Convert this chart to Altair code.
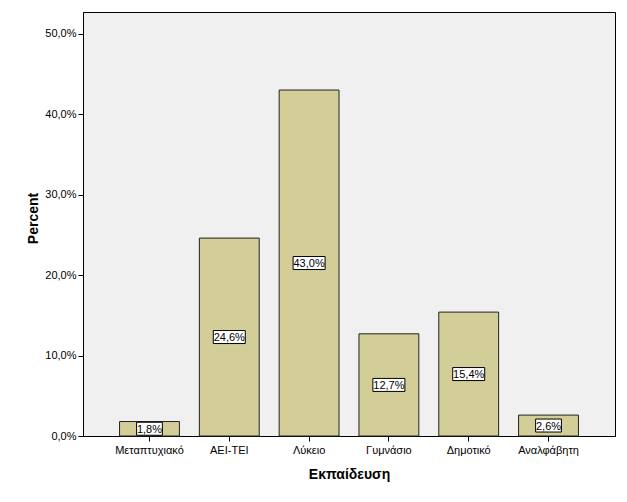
import altair as alt
import pandas as pd

categories = ["Μεταπτυχιακό", "ΑΕΙ-ΤΕΙ", "Λύκειο", "Γυμνάσιο", "Δημοτικό", "Αναλφάβητη"]
percents = [1.8, 24.6, 43.0, 12.7, 15.4, 2.6]

df = pd.DataFrame({"cat": categories, "pct": percents})

FONT = "Liberation Sans"

x = alt.X("cat:N", sort=categories, title="Εκπαίδευση",
          scale=alt.Scale(paddingInner=0.25, paddingOuter=0.458),
          axis=alt.Axis(labelAngle=0, labelFont=FONT, labelFontSize=11, labelColor="black",
                        titleFont=FONT, titleFontSize=14, titleFontWeight="bold", titleColor="black",
                        domainColor="black", tickColor="black", tickSize=5, labelPadding=3,
                        titlePadding=12))
y = alt.Y("pct:Q", title="Percent",
          scale=alt.Scale(domain=[0, 52.7], nice=False),
          axis=alt.Axis(values=[0, 10, 20, 30, 40, 50], grid=False,
                        labelExpr="replace(format(datum.value, '.1f'), '.', ',') + '%'",
                        labelFont=FONT, labelFontSize=11, labelColor="black",
                        titleFont=FONT, titleFontSize=14, titleFontWeight="bold", titleColor="black",
                        domainColor="black", tickColor="black", tickSize=5, labelPadding=2,
                        titlePadding=4, titleY=206, titleAlign="center"))

bars = alt.Chart(df).mark_bar(color="#D3CE97", stroke="#222222", strokeWidth=1).encode(x=x, y=y)

base = alt.Chart(df).transform_calculate(
    mid="datum.pct / 2",
    label="replace(format(datum.pct, '.1f'), '.', ',') + '%'",
).transform_calculate(
    w="length(datum.label) * 6.2 + 1",
).transform_calculate(
    sz="datum.w * datum.w",
    shp="'M-1,-' + (13 / datum.w) + 'H1V' + (13 / datum.w) + 'H-1Z'",
)

boxes = base.mark_point(filled=True, fill="white", stroke="black", strokeWidth=1, opacity=1).encode(
    x=alt.X("cat:N", sort=categories),
    y=alt.Y("mid:Q"),
    size=alt.Size("sz:Q", scale=None),
    shape=alt.Shape("shp:N", scale=None),
)

texts = base.mark_text(font=FONT, fontSize=11, color="black", baseline="middle", align="center", dy=1).encode(
    x=alt.X("cat:N", sort=categories),
    y=alt.Y("mid:Q"),
    text="label:N",
)

chart = alt.layer(bars, boxes, texts).properties(
    width=532, height=424,
    autosize=alt.AutoSizeParams(type="none"),
    padding={"left": 83, "top": 12, "right": 12, "bottom": 66},
    background="white",
).configure_view(fill="#F0F0F0", stroke="black", strokeWidth=1)

chart.save("out.html", embed_options={"renderer": "svg", "actions": False})
